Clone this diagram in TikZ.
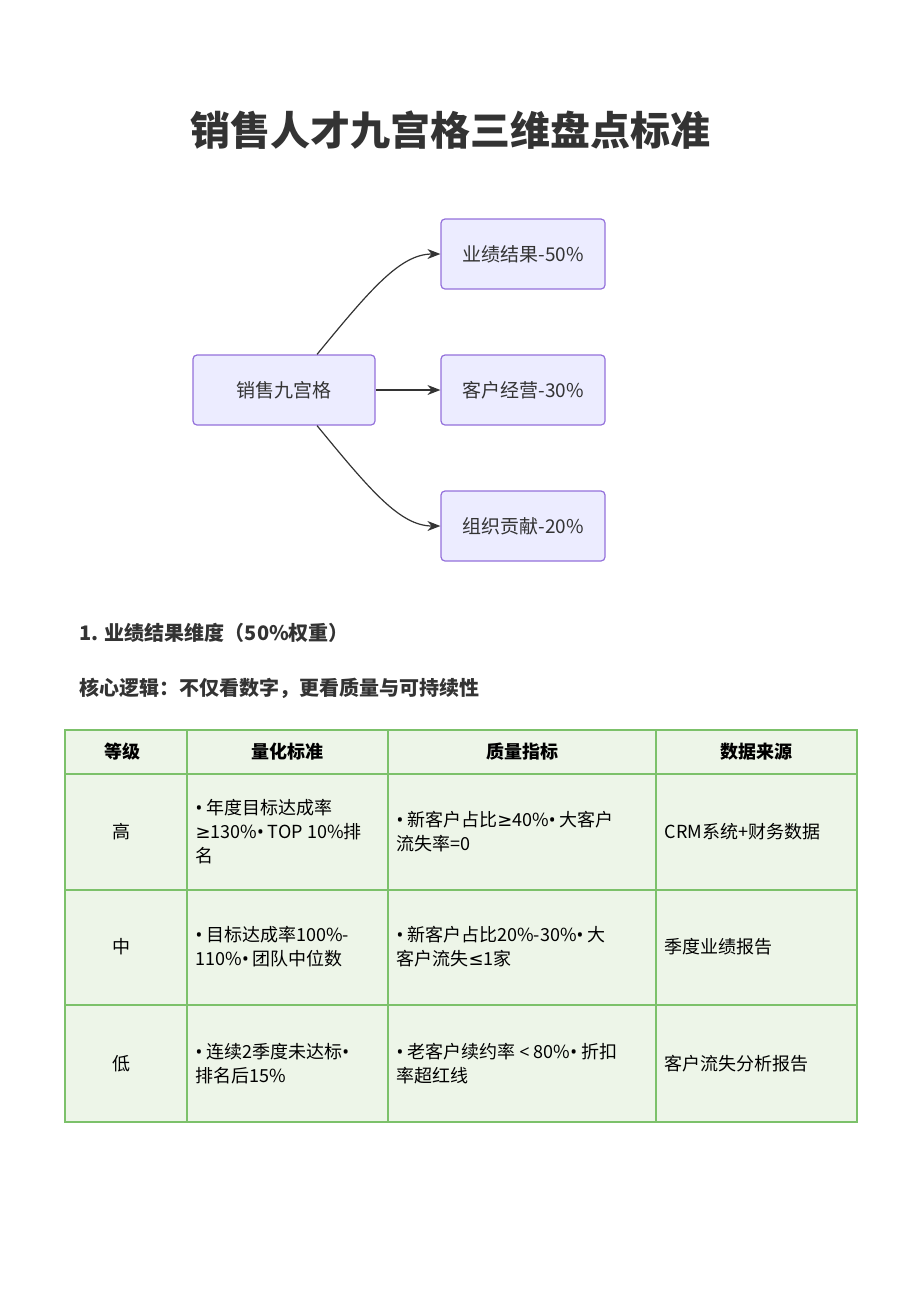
\documentclass[tikz,border=0pt]{standalone}
\usepackage{fontspec}
\setmainfont{Noto Sans CJK SC}
\newfontfamily\latinfont{Noto Sans}
\newfontfamily\symfont{DejaVu Sans}
\newcommand{\bul}{{\latinfont•}}
\newcommand{\geqs}{{\symfont≥}}
\newcommand{\leqs}{{\symfont≤}}
\usetikzlibrary{arrows.meta}
\definecolor{boxfill}{HTML}{ECECFF}
\definecolor{boxline}{HTML}{9370DB}
\definecolor{cellfill}{HTML}{EDF5E8}
\definecolor{cellline}{HTML}{7CC16A}
\definecolor{ink}{HTML}{333333}
\tikzset{
  dimbox/.style={draw=boxline, line width=1.2pt, fill=boxfill, rounded corners=4pt, minimum width=164pt, minimum height=70pt, font=\fontsize{19}{22}\selectfont, text=ink},
  link/.style={-{Stealth[length=13pt,width=10pt]}, draw=ink, line width=1.2pt},
  cell/.style={draw=cellline, fill=cellfill, line width=1.4pt},
  celltext/.style={anchor=west, align=left, font=\fontsize{18}{24}\selectfont},
  headtext/.style={font=\fontsize{18}{22}\selectfont\bfseries}
}
\begin{document}
\begin{tikzpicture}[x=1pt,y=-1pt]
\useasboundingbox (0,0) rectangle (900,1299);

% Titel
\node[font=\fontsize{40}{44}\selectfont\bfseries, text=ink] (title) at (450,130) {销售人才九宫格三维盘点标准};

% Diagramm
\node[dimbox, minimum width=182pt] (root) at (284,390) {销售九宫格};
\node[dimbox] (perf) at (523,254) {业绩结果-50\%};
\node[dimbox] (cust) at (523,390) {客户经营-30\%};
\node[dimbox] (org) at (523,526) {组织贡献-20\%};
\draw[link] ([xshift=33pt]root.north) .. controls (370,290) and (400,254) .. (perf.west);
\draw[link] (root.east) -- (cust.west);
\draw[link] ([xshift=33pt]root.south) .. controls (370,490) and (400,526) .. (org.west);

% Text
\node[anchor=west, font=\fontsize{20}{24}\selectfont\bfseries, text=ink] (h1) at (76,633) {1. 业绩结果维度（50\%权重）};
\node[anchor=west, font=\fontsize{20}{24}\selectfont\bfseries, text=ink] (h2) at (76,688) {核心逻辑：不仅看数字，更看质量与可持续性};

% Tabelle
\foreach \xa/\xb in {65/187,187/388,388/656,656/857} {
  \foreach \ya/\yb in {730/774,774/890,890/1005,1005/1122} {
    \draw[cell] (\xa,\ya) rectangle (\xb,\yb);
  }
}
\node[headtext] (c1) at (122,752) {等级};
\node[headtext] (c2) at (287,752) {量化标准};
\node[headtext] (c3) at (522,752) {质量指标};
\node[headtext] (c4) at (756,752) {数据来源};

\node[font=\fontsize{18}{22}\selectfont] (r1) at (121,832) {高};
\node[celltext] (r1a) at (192,832) {\bul\ 年度目标达成率\\\geqs130\%\bul\ TOP 10\%排\\名};
\node[celltext] (r1b) at (393,832) {\bul\ 新客户占比\geqs40\%\bul\ 大客户\\流失率=0};
\node[celltext] (r1c) at (661,832) {CRM系统+财务数据};

\node[font=\fontsize{18}{22}\selectfont] (r2) at (121,947) {中};
\node[celltext] (r2a) at (192,947) {\bul\ 目标达成率100\%-\\110\%\bul\ 团队中位数};
\node[celltext] (r2b) at (393,947) {\bul\ 新客户占比20\%-30\%\bul\ 大\\客户流失\leqs1家};
\node[celltext] (r2c) at (661,947) {季度业绩报告};

\node[font=\fontsize{18}{22}\selectfont] (r3) at (121,1064) {低};
\node[celltext] (r3a) at (192,1064) {\bul\ 连续2季度未达标\bul\\排名后15\%};
\node[celltext] (r3b) at (393,1064) {\bul\ 老客户续约率 {\latinfont<} 80\%\bul\ 折扣\\率超红线};
\node[celltext] (r3c) at (661,1064) {客户流失分析报告};
\end{tikzpicture}
\end{document}
